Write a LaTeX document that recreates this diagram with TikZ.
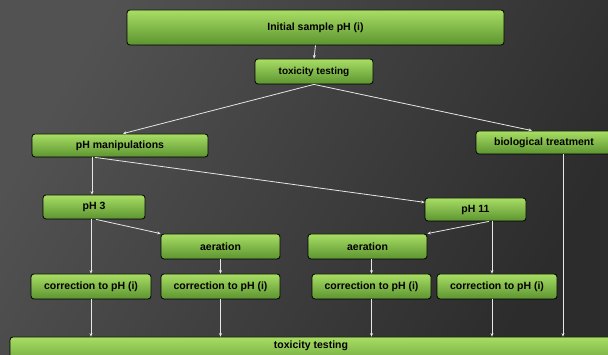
\documentclass[tikz,border=0pt]{standalone}
\usepackage{fontspec}
\setmainfont{Liberation Sans}
\usetikzlibrary{arrows.meta}
\definecolor{bgleft}{HTML}{525252}
\definecolor{bgright}{HTML}{2C2C2C}
\definecolor{greenhi}{HTML}{A8DE64}
\definecolor{greenmid}{HTML}{90CC4C}
\definecolor{greenlo}{HTML}{5C9430}
\definecolor{arrowwhite}{HTML}{E6E6E6}
\tikzset{
	greenbox/.style={draw=black, line width=0.8pt, rounded corners=3pt, top color=greenhi, middle color=greenmid, bottom color=greenlo, inner sep=0pt, font=\fontsize{10.5}{12}\selectfont\bfseries, text=black},
	whitearrow/.style={draw=arrowwhite, line width=0.8pt, -{Stealth[length=3.5pt,width=3pt]}}
}
\begin{document}
\begin{tikzpicture}[x=1pt,y=-1pt]
		\useasboundingbox (0,0) rectangle (608,355);
		\clip (0,0) rectangle (608,355);
		\shade[left color=bgleft, right color=bgright, shading angle=60] (0,0) rectangle (608,355);
	
		\node[greenbox, minimum width=377pt, minimum height=35pt] (init) at (315.5,27.5) {Initial sample pH (i)};
		\node[greenbox, minimum width=118pt, minimum height=25pt, font=\fontsize{10}{12}\selectfont\bfseries] (tox1) at (314,71.5) {toxicity testing};
	
		\node[greenbox, minimum width=176pt, minimum height=23pt] (phman) at (120,145.5) {pH manipulations};
		\node[greenbox, minimum width=136pt, minimum height=23pt] (bio) at (544,142.5) {biological treatment};
	
		\node[greenbox, minimum width=102pt, minimum height=24pt] (ph3) at (94,207) {pH 3};
		\node[greenbox, minimum width=101pt, minimum height=23pt] (ph11) at (475.5,209.5) {pH 11};
	
		\node[greenbox, minimum width=119pt, minimum height=25pt] (aer1) at (220.5,246.5) {aeration};
		\node[greenbox, minimum width=119pt, minimum height=25pt] (aer2) at (367.5,246.5) {aeration};
	
		\node[greenbox, minimum width=120pt, minimum height=25pt] (cor1) at (91,286.5) {correction to pH (i)};
		\node[greenbox, minimum width=119pt, minimum height=25pt] (cor2) at (220.5,286.5) {correction to pH (i)};
		\node[greenbox, minimum width=119pt, minimum height=25pt] (cor3) at (371.5,286.5) {correction to pH (i)};
		\node[greenbox, minimum width=120pt, minimum height=25pt] (cor4) at (497,286.5) {correction to pH (i)};
	
		\node[greenbox, minimum width=602pt, minimum height=34pt] (tox2) at (311,354) {};
		\node[font=\fontsize{10.5}{12}\selectfont\bfseries, text=black] (tox2text) at (311,346) {toxicity testing};
	
		\draw[whitearrow] (init.south) -- (tox1.north);
		\draw[whitearrow] (tox1.south) -- ([xshift=3pt]phman.north);
		\draw[whitearrow] (tox1.south) -- ([xshift=-12pt]bio.north);
	
		\draw[whitearrow] ([xshift=-28pt]phman.south) -- ([xshift=-28pt]phman.south |- ph3.north);
		\draw[whitearrow] ([xshift=-25pt]phman.south) -- (ph11.172);
	
		\draw[whitearrow] ([xshift=2pt]ph3.south) -- (aer1.north west);
		\draw[whitearrow] (cor1.north |- ph3.south) -- (cor1.north);
		\draw[whitearrow] ([xshift=13.5pt]ph11.south) -- (aer2.north east);
		\draw[whitearrow] ([xshift=16.5pt]ph11.south) -- ([xshift=16.5pt]ph11.south |- cor4.north);
	
		\draw[whitearrow] (aer1.south) -- (cor2.north);
		\draw[whitearrow] (cor3.north |- aer2.south) -- (cor3.north);
	
		\draw[whitearrow] (cor1.south) -- (cor1.south |- tox2.north);
		\draw[whitearrow] (cor2.south) -- (cor2.south |- tox2.north);
		\draw[whitearrow] (cor3.south) -- (cor3.south |- tox2.north);
		\draw[whitearrow] ([xshift=-5pt]cor4.south) -- ([xshift=-5pt]cor4.south |- tox2.north);
		\draw[whitearrow] ([xshift=19pt]bio.south) -- ([xshift=19pt]bio.south |- tox2.north);
	
	\end{tikzpicture}
\end{document}
